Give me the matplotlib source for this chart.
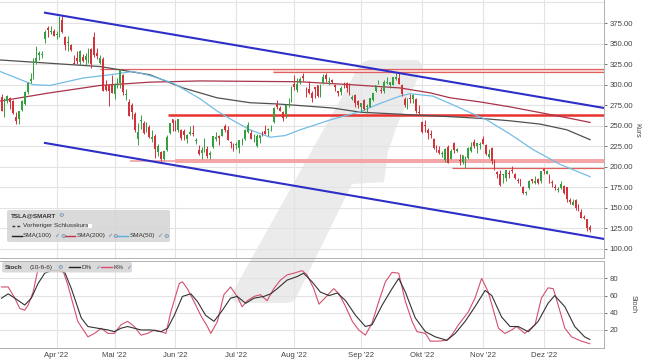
import numpy as np
import pandas as pd
import matplotlib
matplotlib.use("Agg")
import matplotlib.pyplot as plt
from matplotlib.patches import Polygon, FancyBboxPatch
from matplotlib.lines import Line2D

plt.rcParams['font.family'] = ['Liberation Sans', 'DejaVu Sans']

# ---- data (TSLA daily, Mar 7 - Dec 23 2022) ----
holidays = ['2022-04-15', '2022-05-30', '2022-06-20', '2022-07-04', '2022-09-05', '2022-11-24']

opens = [
    285.4, 265.2, 279.8, 283.8, 280.1, 260.2, 258.4, 269.7, 277.0, 291.5, 305.0, 310.0, 326.6, 336.6, 336.0, 355.0, 369.3, 363.7, 364.9,
    360.4, 363.1, 378.8, 357.8, 350.8, 347.7, 326.8, 332.5, 327.0, 333.1, 329.7, 333.6, 343.4, 358.2, 338.3, 326.3, 331.8, 299.5, 300.0, 300.8,
    289.0, 299.0, 302.0, 312.0, 287.6, 278.7, 275.0, 264.8, 233.7, 255.7, 252.8, 248.0, 248.3, 234.3, 237.0, 218.2, 218.3, 209.0, 220.3, 241.7, 258.3,
    250.0, 245.0, 244.6, 244.0, 234.0, 240.1, 240.6, 231.4, 220.7, 216.8, 222.4, 222.0, 214.1, 224.6, 233.3, 237.9, 237.5, 249.4, 244.5, 230.5, 226.0,
    227.0, 223.0, 230.8, 233.3, 242.0, 241.0, 232.5, 225.3, 234.9, 240.8, 244.0, 245.0, 246.8, 255.1, 276.2, 272.1, 266.5, 263.8, 280.7, 280.7,
    301.3, 294.0, 301.4, 311.0, 288.3, 294.7, 290.3, 297.1, 299.5, 289.4, 301.8, 311.7, 303.4, 306.0, 299.0, 291.9, 290.5, 297.6, 302.4, 297.4, 282.8, 287.9, 280.6,
    272.6, 281.1, 272.7, 273.1, 281.3, 291.7, 300.7, 292.9, 292.2, 301.8, 299.6, 300.1, 306.9, 308.3, 299.9, 283.1, 271.8, 283.8, 283.1, 282.8, 266.2,
    254.5, 250.5, 245.0, 239.4, 233.9, 223.9, 221.0, 215.3, 208.3, 224.0, 210.0, 229.5, 219.8, 208.3, 206.4, 205.8, 210.1, 219.4, 229.8, 225.4, 226.2,
    234.1, 226.0, 211.4, 222.6, 208.7, 194.0, 190.8, 189.9, 186.0, 192.8, 195.9, 191.5, 184.0, 185.1, 175.9, 168.6, 173.6, 185.1, 180.0, 185.0, 182.4,
    197.1, 191.8, 189.4, 181.2, 175.0, 172.2, 173.8, 176.1, 174.9, 159.3, 153.4, 159.6, 154.0, 145.0, 139.3, 136.0, 126.4,
]
highs = [
    288.7, 283.3, 286.9, 284.8, 281.3, 266.9, 268.5, 280.7, 291.7, 302.6, 314.3, 332.6, 346.9, 341.5, 340.6, 366.0, 371.6, 371.3, 367.7,
    364.9, 383.3, 384.3, 359.7, 358.9, 349.5, 336.2, 340.4, 342.1, 337.6, 338.3, 344.6, 344.8, 363.7, 345.0, 336.2, 333.3, 306.0, 300.0, 311.5,
    302.1, 308.0, 318.5, 313.5, 295.0, 282.0, 277.4, 267.2, 253.2, 262.8, 255.5, 254.8, 251.0, 244.5, 240.5, 227.4, 218.7, 220.9, 238.3, 253.3, 258.5,
    257.0, 258.6, 245.5, 245.4, 239.9, 249.5, 250.3, 234.6, 226.5, 224.0, 234.5, 225.3, 219.7, 237.4, 242.5, 238.8, 246.1, 252.1, 249.9, 231.2, 229.3,
    230.2, 233.1, 234.6, 245.4, 254.9, 244.3, 240.0, 239.5, 238.7, 243.6, 250.5, 247.1, 250.7, 273.0, 280.8, 274.1, 267.3, 275.9, 283.3, 298.3,
    311.9, 307.8, 309.6, 313.6, 297.0, 305.0, 292.4, 297.5, 299.8, 300.2, 313.1, 314.7, 309.7, 306.5, 300.4, 292.4, 298.8, 303.6, 303.0, 302.0, 287.7, 288.5, 281.3,
    277.6, 282.4, 276.0, 283.8, 289.5, 299.9, 305.5, 297.4, 306.0, 309.1, 303.7, 309.8, 313.8, 313.8, 301.3, 284.5, 284.1, 288.7, 289.0, 283.7, 275.6,
    255.2, 257.5, 246.7, 244.6, 234.6, 227.0, 225.8, 219.3, 223.0, 226.3, 221.9, 229.8, 222.9, 215.5, 214.7, 213.5, 224.4, 230.6, 233.8, 228.9, 229.9,
    237.4, 227.9, 221.2, 223.8, 208.9, 195.2, 195.9, 191.0, 196.5, 195.7, 200.8, 192.6, 186.2, 185.2, 176.8, 170.9, 183.6, 185.2, 188.5, 186.4, 194.8,
    198.9, 196.3, 191.3, 183.7, 179.4, 175.2, 182.5, 177.4, 175.1, 161.6, 160.9, 161.0, 155.3, 148.5, 141.3, 136.6, 128.6,
]
lows = [
    268.2, 260.7, 277.3, 270.1, 264.6, 252.0, 252.2, 267.4, 275.2, 289.1, 302.4, 307.3, 325.5, 329.6, 332.4, 351.2, 357.7, 361.3, 358.9,
    355.5, 357.5, 362.4, 342.6, 340.5, 340.8, 324.9, 325.5, 324.4, 327.4, 324.5, 326.8, 320.8, 333.5, 331.3, 325.1, 291.7, 292.5, 273.9, 290.0,
    282.0, 296.2, 295.5, 287.3, 281.4, 261.8, 258.4, 242.3, 226.7, 246.0, 240.0, 242.0, 235.5, 230.5, 211.0, 213.3, 206.9, 208.0, 219.7, 240.3, 243.3,
    243.7, 242.2, 232.9, 232.3, 229.3, 239.3, 237.7, 227.5, 214.4, 209.6, 218.4, 211.3, 209.6, 223.4, 231.0, 226.2, 237.0, 242.6, 232.3, 222.3, 218.9,
    222.1, 216.2, 227.0, 232.2, 241.2, 233.7, 230.2, 224.0, 229.3, 236.9, 239.6, 236.9, 243.5, 253.3, 270.6, 267.4, 256.3, 258.9, 272.8, 279.1,
    293.3, 291.5, 301.2, 305.0, 285.5, 289.1, 279.4, 283.4, 285.2, 285.0, 301.2, 302.9, 300.0, 301.9, 292.5, 286.3, 287.9, 296.5, 291.6, 287.5, 280.7, 272.7, 271.8,
    266.1, 269.1, 265.7, 272.3, 279.8, 291.3, 300.4, 290.4, 289.3, 300.7, 295.6, 299.6, 305.6, 300.6, 285.8, 272.8, 270.3, 277.5, 277.6, 265.8, 262.5,
    241.0, 242.4, 233.3, 234.7, 222.0, 218.0, 215.0, 211.5, 206.2, 204.2, 209.5, 217.3, 217.8, 202.0, 203.8, 198.6, 210.0, 218.2, 222.9, 216.4, 221.9,
    227.3, 214.8, 210.1, 203.1, 196.7, 186.8, 177.1, 180.0, 182.6, 186.3, 192.1, 185.7, 180.6, 176.6, 167.5, 166.2, 172.5, 180.6, 179.0, 178.8, 180.6,
    191.8, 191.1, 180.6, 175.3, 172.2, 169.1, 173.4, 167.5, 156.9, 155.3, 153.3, 148.0, 145.8, 137.7, 135.9, 122.3, 121.0,
]
closes = [
    268.2, 274.8, 286.3, 279.4, 265.1, 255.5, 267.3, 280.1, 290.5, 301.8, 307.1, 331.3, 333.0, 338.0, 336.9, 363.9, 366.5, 364.7, 359.2,
    361.5, 381.8, 363.8, 348.6, 352.4, 341.8, 325.3, 329.0, 340.8, 328.3, 334.8, 342.7, 325.7, 336.3, 335.0, 332.7, 292.1, 293.8, 292.5, 290.3,
    301.0, 303.1, 317.5, 291.1, 288.6, 262.4, 266.7, 244.7, 242.7, 256.5, 241.5, 253.9, 236.6, 236.5, 221.3, 225.0, 209.4, 219.6, 235.9, 253.2, 252.8,
    246.8, 258.3, 234.5, 238.3, 238.9, 241.9, 239.7, 232.2, 215.7, 220.9, 233.0, 213.1, 216.8, 237.0, 236.1, 235.1, 245.7, 244.9, 232.7, 228.5, 224.5,
    227.3, 233.1, 231.7, 244.5, 250.8, 234.3, 233.1, 237.0, 238.3, 240.1, 240.5, 245.5, 247.5, 271.7, 272.2, 268.4, 258.9, 274.8, 280.9, 297.2,
    297.3, 300.6, 307.4, 308.6, 288.2, 290.4, 283.3, 294.4, 286.6, 300.0, 309.3, 306.6, 304.0, 302.9, 296.7, 289.9, 296.5, 297.1, 296.1, 288.1, 284.8, 277.7, 275.6,
    277.2, 270.2, 274.4, 283.7, 289.3, 299.7, 304.4, 292.1, 302.6, 303.8, 303.4, 309.1, 308.7, 300.8, 288.6, 275.3, 276.0, 282.9, 287.8, 268.2, 265.3,
    242.4, 249.4, 240.8, 238.1, 223.1, 223.0, 216.5, 217.2, 221.7, 205.0, 219.4, 220.2, 222.0, 207.3, 214.4, 211.3, 222.4, 224.6, 225.1, 228.5, 227.5,
    227.8, 215.0, 215.3, 207.5, 197.1, 191.3, 177.6, 190.7, 196.0, 191.0, 194.4, 186.9, 183.2, 180.2, 167.9, 169.9, 183.2, 182.9, 182.9, 180.8, 194.7,
    194.7, 194.9, 182.5, 179.8, 174.0, 173.4, 179.1, 167.8, 161.0, 156.8, 157.7, 150.2, 149.9, 137.8, 137.6, 125.4, 123.2,
]

# moving averages (day index, value)
sma100_x = [-0.5, 16.7, 34, 51.2, 62.6, 74.3, 85.7, 95, 103, 114.3, 123.6, 137.4, 154.7, 165, 175.3, 185.7, 195, 203]
sma100_y = [330, 326, 322, 312, 296, 284, 278, 276.5, 274.5, 271.5, 266.5, 264, 261, 259, 256, 252, 245, 233]
sma200_x = [-0.5, 16.7, 34, 51.2, 68.4, 85.7, 103, 120.2, 137.4, 147.8, 154.7, 165, 175.3, 185.7, 196, 203]
sma200_y = [280, 290, 299, 303, 304.5, 304, 303.5, 300, 296, 290, 284, 279, 273, 266, 259, 254]
sma50_x = [-0.5, 10.9, 16.7, 28.1, 37.4, 45.3, 51.2, 59.1, 68.4, 74.3, 80.5, 85.7, 92.6, 97.8, 103, 113.3, 123.6, 130.5, 137.4,
           140.9, 148.8, 154.7, 161.6, 167.4, 175.3, 183.3, 192.6, 203]
sma50_y = [316, 300, 299, 308, 312, 316, 311, 302, 283, 268, 255, 245, 236, 238, 245, 257, 267, 277, 286,
           289, 286, 277, 266, 257, 240, 221, 203, 188]

# stochastic (10-6-6)
k_x = [0, 2.3, 4.6, 6.3, 8, 9.2, 10.9, 12.6, 13.7, 16, 18.3, 20, 21.2, 22.9, 26.3, 29.8, 32.1, 34.4, 36.7, 38.9,
       41.2, 43.5, 45.8, 48.1, 50.4, 52.7, 55, 56.7, 58.4, 61.3, 62.4, 64.1, 66.4, 68.7, 71, 72.2, 74.5, 76.7, 79, 81.3,
       83, 84.8, 87.1, 89.3, 91.6, 93.9, 96.2, 98.5, 100.8, 103.7, 105.4, 107.7, 109.5, 111.8, 113.4, 114.6, 116.4, 118.7, 121, 123.2,
       125.5, 127.8, 130.1, 132.4, 134.7, 137, 139.3, 141.6, 143.3, 146.2, 147.9, 150.7, 153.6, 155.3, 157.6, 161, 163.3, 165.6, 167.9, 171.4,
       173.6, 176, 177.6, 180.5, 184, 186.2, 188.5, 190.3, 192, 194.3, 196.6, 200, 202.9]
k_y = [70, 70, 57, 45, 43, 49, 64, 91, 95, 89, 89, 90, 89, 72, 30, 12, 16, 22, 16, 16,
       26, 30, 24, 14, 16, 20, 18, 16, 41, 74, 76, 68, 53, 37, 24, 16, 30, 61, 70, 59,
       47, 54, 59, 61, 54, 68, 78, 84, 86, 89, 84, 68, 50, 58, 64, 68, 62, 47, 30, 20,
       14, 28, 53, 76, 87, 86, 53, 30, 18, 16, 7, 7, 8, 14, 26, 41, 57, 80, 64, 22,
       16, 20, 24, 16, 26, 57, 69, 68, 49, 22, 12, 7, 4]
d_x = [0, 2.3, 4.6, 8, 10.3, 12.6, 14.9, 17.2, 19.5, 21.8, 24.1, 27.5, 29.8, 33.2, 36.7, 38.9, 41.2, 43.5, 45.8, 48.1,
       51.5, 55, 57.3, 59.6, 62.4, 65.3, 67.6, 70.4, 73.3, 76.2, 79, 81.3, 84.2, 87.1, 90.5, 92.8, 95.1, 98.5, 101.9, 104.2,
       107.1, 110, 113, 115.8, 118.7, 122.1, 125.5, 127.8, 131.3, 134.7, 137, 139.3, 142.7, 146.2, 149.6, 153.6, 156.5, 159.9, 163.3, 166.8,
       169.1, 172.5, 175.4, 178.2, 181.7, 185.1, 188.5, 190.8, 194.3, 197.7, 201.1, 202.9]
d_y = [57, 62, 57, 49, 57, 74, 86, 89, 89, 87, 68, 34, 24, 22, 20, 18, 22, 24, 22, 20,
       20, 18, 22, 37, 59, 62, 53, 37, 30, 43, 57, 59, 51, 57, 59, 62, 68, 78, 82, 86,
       76, 64, 60, 63, 54, 37, 24, 26, 49, 68, 80, 64, 34, 18, 12, 8, 16, 30, 47, 66,
       60, 35, 24, 24, 18, 30, 51, 60, 47, 24, 12, 9]

month_labels = ["Apr '22", "Mai '22", "Jun '22", "Jul '22", "Aug '22", "Sep '22", "Okt '22", "Nov '22", "Dez '22"]

# channel lines (day index, value)
upper_channel = [(15.0, 387.5), (207.8, 271.6)]
lower_channel = [(15.0, 229.0), (207.8, 112.2)]

W, H = 645, 363
fig = plt.figure(figsize=(W / 100, H / 100), dpi=100, facecolor='white')

def fx(px):
    return px / W

def fy(py):
    return 1 - py / H

ax = fig.add_axes([0, fy(258), fx(604), 258 / H])
ax2 = fig.add_axes([0, fy(347.5), fx(604), (347.5 - 261) / H])
for a in (ax, ax2):
    a.set_facecolor('none')

# watermark logo (pixel outline)
wm = [(370, 60), (418, 60), (423, 66), (396, 128), (388, 152), (384, 182), (352, 184),
      (295, 300), (289, 303), (236, 303), (230, 297), (358, 68), (363, 62)]
fig.patches.append(Polygon([(fx(x), fy(y)) for x, y in wm], closed=True, transform=fig.transFigure,
                           facecolor='#ebebeb', edgecolor='none', zorder=-5))

dates = pd.bdate_range('2022-03-07', '2022-12-23')
dates = dates[~dates.isin(pd.to_datetime(holidays))]
n = len(dates)
xi = np.arange(n)
o, h, l, c = map(np.array, (opens, highs, lows, closes))

month_pos = [i for i in range(1, n) if dates[i].month != dates[i - 1].month]

grid_c = '#e3e3e3'
for a in (ax, ax2):
    for m in month_pos:
        a.axvline(m, color=grid_c, lw=0.8, zorder=0)
for v in range(100, 401, 25):
    ax.axhline(v, color=grid_c, lw=0.8, zorder=0)
for v in (20, 40, 60, 80):
    ax2.axhline(v, color=grid_c, lw=0.8, zorder=0)

# horizontal levels
ax.hlines(319, 34, 207.8, color='#e06060', lw=0.9, zorder=2)
ax.fill_between([93.6, 207.8], 315, 319, color='#f9dede', lw=0, zorder=1)
ax.hlines(315, 93.6, 207.8, color='#e06060', lw=0.9, zorder=2)
ax.hlines(263.5, 57.4, 207.8, color='#e8332e', lw=1.8, zorder=2)
ax.hlines(207, 44.3, 59.8, color='#f2a0a0', lw=1.2, zorder=2)
ax.fill_between([59.8, 207.8], 205, 209, color='#f4a5a5', lw=0, zorder=2)
ax.hlines(198.3, 155.3, 207.8, color='#e06060', lw=0.9, zorder=2)

# moving averages
ax.plot(sma100_x, sma100_y, color='#505050', lw=0.9, zorder=3)
ax.plot(sma200_x, sma200_y, color='#a8334a', lw=0.9, zorder=3)
ax.plot(sma50_x, sma50_y, color='#74bde6', lw=0.9, zorder=3)

# candles
up = c >= o
col = np.where(up, '#35a042', '#d2323a')
ax.vlines(xi, l, h, colors=col, lw=0.7, zorder=4)
ax.bar(xi, np.maximum(np.abs(c - o), 0.4), bottom=np.minimum(o, c), width=0.62, color=col, lw=0, zorder=5)

# trend channel
for seg in (upper_channel, lower_channel):
    ax.plot([seg[0][0], seg[1][0]], [seg[0][1], seg[1][1]], color='#2e2ec8', lw=1.5, zorder=6)

ax.set_xlim(-0.52, 207.8)
ax.set_ylim(89, 403)
ax2.set_xlim(-0.52, 207.8)
ax2.set_ylim(-0.4, 100.2)

ax.yaxis.tick_right()
ax.set_yticks(range(100, 376, 25))
ax.set_yticklabels(['%.2f' % v for v in range(100, 376, 25)])
ax.set_xticks([])
ax2.yaxis.tick_right()
ax2.set_yticks([20, 40, 60, 80])
ax2.set_xticks(month_pos)
ax2.set_xticklabels(month_labels)
for a in (ax, ax2):
    a.tick_params(axis='y', labelsize=5.6, colors='#444444', length=2, width=0.5, pad=2)
    a.tick_params(axis='x', labelsize=5.6, colors='#444444', length=0, pad=3)
    a.spines['left'].set_visible(False)
    for s in ('right', 'bottom', 'top'):
        a.spines[s].set_color('#b0b0b0')
        a.spines[s].set_linewidth(0.7)
ax.spines['top'].set_visible(False)

fig.text(fx(637), fy(130), 'Kurs', rotation=270, fontsize=5, color='#444444', ha='center', va='center')
fig.text(fx(633), fy(304), 'Stoch', rotation=270, fontsize=5, color='#444444', ha='center', va='center')

# stochastic lines
ax2.plot(k_x, k_y, color='#d4506e', lw=0.8, zorder=3)
ax2.plot(d_x, d_y, color='#333333', lw=0.8, zorder=4)

# legend boxes
def box(x0, y0, x1, y1):
    fig.patches.append(FancyBboxPatch((fx(x0), fy(y1)), fx(x1) - fx(x0), fy(y0) - fy(y1),
                                      boxstyle='round,pad=0,rounding_size=0.004', transform=fig.transFigure,
                                      facecolor='#d6d6d6', edgecolor='none', alpha=0.9, zorder=10))

def seg(x0, x1, y, color, ls='-'):
    fig.add_artist(Line2D([fx(x0), fx(x1)], [fy(y), fy(y)], transform=fig.transFigure,
                          color=color, lw=1.0, ls=ls, zorder=11))

def txt(x, y, s, color='#333333', size=4.6, weight='normal'):
    fig.text(fx(x), fy(y), s, fontsize=size, color=color, weight=weight, ha='left', va='center', zorder=12)

icon_c = '#5b7fa8'
box(7, 210, 170, 242)
txt(11, 215.5, 'TSLA@SMART', weight='bold')
txt(58, 215.5, '⚙', color=icon_c, size=4.5)
seg(12, 20, 225.5, '#333333', ls=(0, (2, 1.5)))
txt(23, 225.5, 'Vorheriger Schlusskurs')
fig.patches.append(FancyBboxPatch((fx(88), fy(228)), fx(4), 4 / H, boxstyle='square,pad=0',
                                  transform=fig.transFigure, facecolor='white', edgecolor='none', zorder=11))
seg(12, 22, 236, '#222222')
txt(23, 236, 'SMA(100)')
txt(54, 236, '✓', color=icon_c, size=4.5)
txt(60, 236, '⚙', color=icon_c, size=4.5)
seg(65, 75, 236, '#c0334a')
txt(77, 236, 'SMA(200)')
txt(107, 236, '✓', color=icon_c, size=4.5)
txt(112, 236, '⚙', color=icon_c, size=4.5)
seg(117, 128, 236, '#5ab0e0')
txt(130, 236, 'SMA(50)')
txt(157, 236, '✓', color=icon_c, size=4.5)
txt(163, 236, '⚙', color=icon_c, size=4.5)

box(2, 262, 132, 272.5)
txt(5, 267.3, 'Stoch', weight='bold')
txt(30, 267.3, '(10-6-6)')
txt(57, 267.3, '⚙', color=icon_c, size=4.5)
seg(69, 80, 267.3, '#222222')
txt(82, 267.3, 'D%')
txt(95, 267.3, '✓', color=icon_c, size=4.5)
seg(101, 112, 267.3, '#d4506e')
txt(113, 267.3, 'K%')
txt(126, 267.3, '✓', color=icon_c, size=4.5)

fig.savefig('out.png', dpi=100, facecolor='white')
